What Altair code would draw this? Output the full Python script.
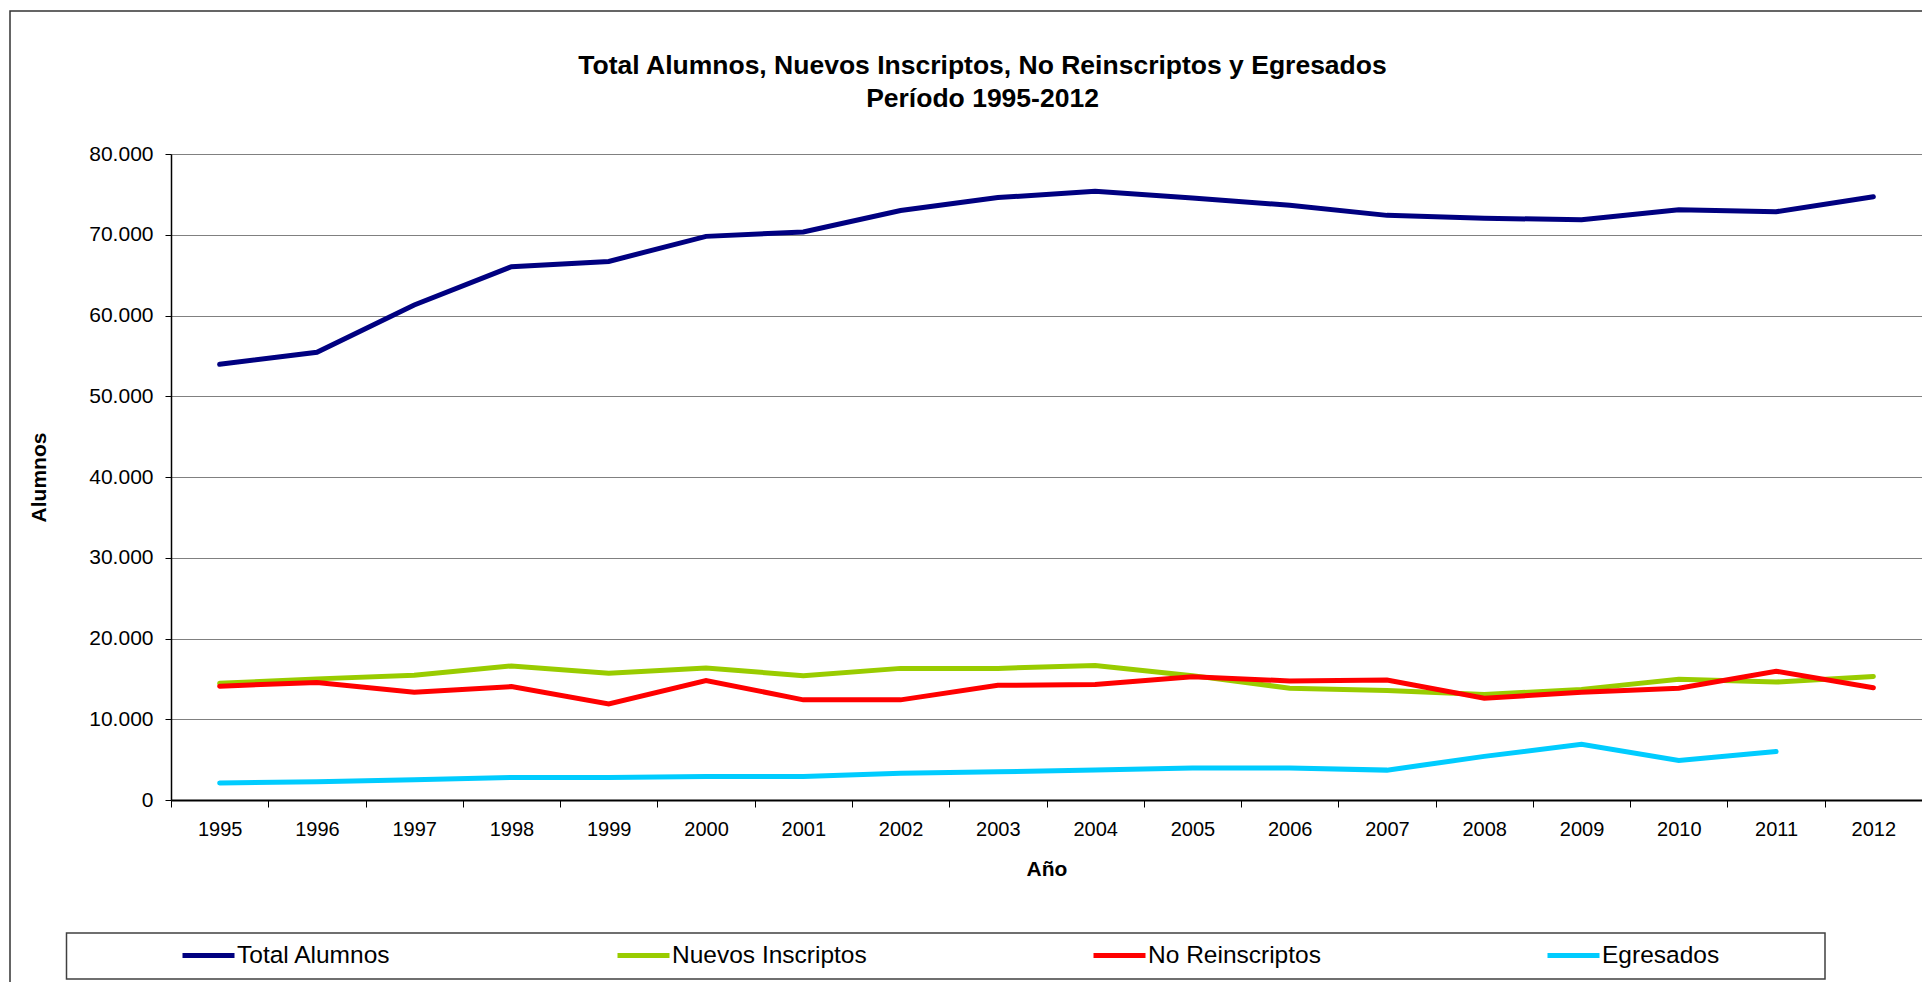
import altair as alt
import pandas as pd

years = [str(y) for y in range(1995, 2013)]
series = ["Total Alumnos", "Nuevos Inscriptos", "No Reinscriptos", "Egresados"]
colors = ["#000080", "#99CC00", "#FF0000", "#00CCFF"]

total_alumnos = [53950, 55450, 61300, 66050, 66700, 69800, 70350, 73000, 74600,
                 75400, 74550, 73650, 72400, 72050, 71850, 73100, 72850, 74700]
nuevos_inscriptos = [14450, 15000, 15450, 16600, 15700, 16350, 15400, 16300, 16300,
                     16650, 15400, 13850, 13550, 13050, 13700, 14950, 14600, 15300]
no_reinscriptos = [14100, 14550, 13350, 14050, 11900, 14800, 12400, 12400, 14200,
                   14300, 15250, 14750, 14850, 12600, 13350, 13850, 15950, 13900]
egresados = [2100, 2250, 2500, 2800, 2800, 2900, 2900, 3300, 3500,
             3700, 3950, 3950, 3700, 5400, 6900, 4900, 6000, None]

rows = []
for name, vals in zip(series, [total_alumnos, nuevos_inscriptos, no_reinscriptos, egresados]):
    for y, v in zip(years, vals):
        if v is not None:
            rows.append({"Año": y, "serie": name, "valor": v})
df = pd.DataFrame(rows)

W, H = 1751, 646
FONT = "Liberation Sans"

lines = alt.Chart(df).mark_line(strokeWidth=5, strokeCap="round").encode(
    x=alt.X("Año:N", sort=years, bandPosition=0.5,
            scale=alt.Scale(type="band", paddingInner=0, paddingOuter=0),
            axis=alt.Axis(title="Año", labelAngle=0, tickBand="extent", grid=False,
                          labelFontSize=20, labelFont=FONT, labelColor="black",
                          labelPadding=12, tickSize=7, tickColor="black", tickWidth=1,
                          domainColor="black", domainWidth=2,
                          titleFontSize=21, titleFont=FONT, titleFontWeight="bold",
                          titleColor="black", titleY=69, titleBaseline="middle")),
    y=alt.Y("valor:Q", scale=alt.Scale(domain=[0, 80000], nice=False),
            axis=alt.Axis(title="Alumnos", values=list(range(0, 80001, 10000)),
                          labelExpr="replace(format(datum.value, ','), ',', '.')",
                          labelFontSize=21, labelFont=FONT, labelColor="black",
                          labelPadding=12, tickSize=6, tickColor="black",
                          grid=True, gridColor="#808080", gridWidth=1,
                          domainColor="black", domainWidth=1.5,
                          titleFontSize=21, titleFont=FONT, titleFontWeight="bold",
                          titleColor="black", titleX=-132, titleY=323,
                          titleBaseline="middle")),
    color=alt.Color("serie:N", sort=series,
                    scale=alt.Scale(domain=series, range=colors),
                    legend=alt.Legend(title=None, orient="none", legendX=9, legendY=773,
                                      direction="horizontal", columns=4, gridAlign="none",
                                      symbolType="stroke", symbolSize=2704,
                                      symbolStrokeWidth=5, labelFontSize=24.5,
                                      labelFont=FONT, labelColor="black", labelOffset=0,
                                      columnPadding=216, padding=0, labelLimit=0)),
)

one = pd.DataFrame({"k": [0]})
border = alt.Chart(one).mark_rect(filled=False, stroke="#333333", strokeWidth=1.5).encode(
    x=alt.value(-161), x2=alt.value(W + 200), y=alt.value(-143), y2=alt.value(H + 400))
legend_box = alt.Chart(one).mark_rect(filled=False, stroke="#404040", strokeWidth=1.5).encode(
    x=alt.value(-104.5), x2=alt.value(1654), y=alt.value(779), y2=alt.value(825))

chart = alt.layer(border, legend_box, lines).properties(
    width=W, height=H,
    title=alt.TitleParams(
        text=["Total Alumnos, Nuevos Inscriptos, No Reinscriptos y Egresados",
              "Período 1995-2012"],
        fontSize=26.5, font=FONT, fontWeight="bold", color="black",
        anchor="middle", dx=-64, dy=106, lineHeight=33),
    autosize=alt.AutoSizeParams(type="none"),
    padding={"left": 163, "top": 146, "right": 0, "bottom": 182},
).configure_view(stroke="#999999", strokeWidth=2).configure(background="white")

chart.save("out.html", embed_options={"renderer": "svg", "actions": False})
